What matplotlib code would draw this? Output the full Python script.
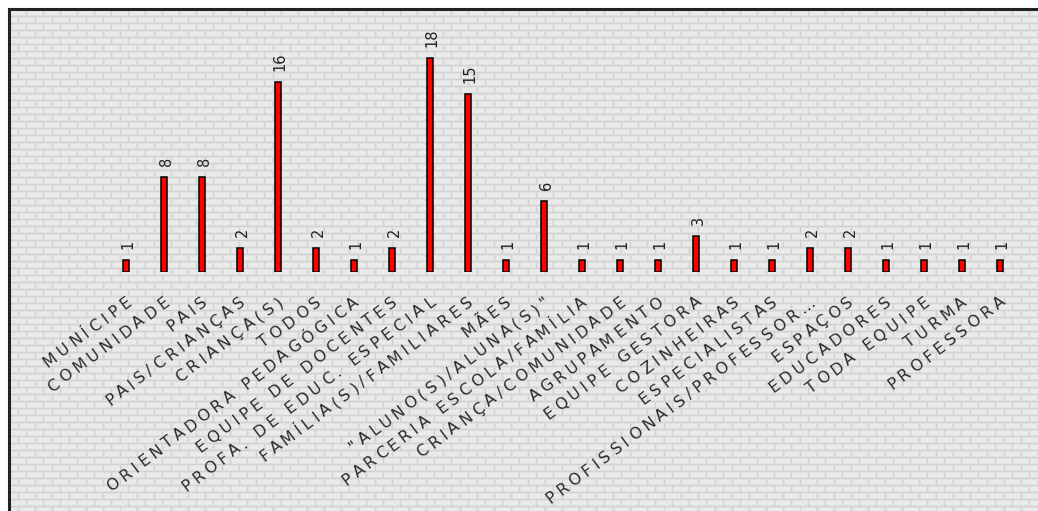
import numpy as np
import matplotlib
matplotlib.use('Agg')
import matplotlib.pyplot as plt
import matplotlib.transforms as mtransforms
from matplotlib.font_manager import FontProperties
from matplotlib.textpath import text_to_path

# categories and counts
categorias = ['MUNÍCIPE', 'COMUNIDADE', 'PAIS', 'PAIS/CRIANÇAS', 'CRIANÇA(S)', 'TODOS',
              'ORIENTADORA PEDAGÓGICA', 'EQUIPE DE DOCENTES', 'PROFA. DE EDUC. ESPECIAL',
              'FAMÍLIA(S)/FAMILIARES', 'MÃES', '"ALUNO(S)/ALUNA(S)"', 'PARCERIA ESCOLA/FAMÍLIA',
              'CRIANÇA/COMUNIDADE', 'AGRUPAMENTO', 'EQUIPE GESTORA', 'COZINHEIRAS',
              'ESPECIALISTAS', 'PROFISSIONAIS/PROFESSOR…', 'ESPAÇOS', 'EDUCADORES',
              'TODA EQUIPE', 'TURMA', 'PROFESSORA']
valores = [1, 8, 8, 2, 16, 2, 1, 2, 18, 15, 1, 6, 1, 1, 1, 3, 1, 1, 2, 2, 1, 1, 1, 1]

W, H = 1038, 511
dpi = 100
fig = plt.figure(figsize=(W / dpi, H / dpi), dpi=dpi)
fig.patch.set_facecolor('white')

# brick wall background inside the frame
fx0, fy0 = 9, 9
bw, bh = W - fx0, H - fy0
yy, xx = np.mgrid[0:bh, 0:bw]
row = yy // 7
xm = (xx + (row % 2) * 8) % 17
ym = yy % 7
tex = np.full((bh, bw), 234.0)
tex[(ym == 1) | (ym == 6) | (xm == 1) | (xm == 16)] = 225
tex[(ym == 0) | (xm == 0)] = 210
tex = np.dstack([tex, tex, tex]) / 255.0

bg = fig.add_axes([fx0 / W, 0, bw / W, bh / H])
bg.imshow(tex, interpolation='nearest', aspect='auto')
bg.set_xticks([])
bg.set_yticks([])
for s in ['right', 'bottom']:
    bg.spines[s].set_visible(False)
for s in ['left', 'top']:
    bg.spines[s].set_linewidth(2.2)
    bg.spines[s].set_color('#222222')

# chart axes
base_y = 272
ax = fig.add_axes([10 / W, (H - base_y) / H, (W - 10) / W, (base_y - 10) / H])
ax.patch.set_alpha(0)
x = np.arange(len(categorias))
ax.bar(x, valores, width=0.18, color='#ff0000', edgecolor='black', linewidth=1.1, zorder=3)
ax.set_xlim(-(126 - 10) / 38, 23 + (W - 1000) / 38)
ax.set_ylim(0, (base_y - 10) / 11.9)
ax.axis('off')

for xi, v in zip(x, valores):
    ax.annotate(str(v), (xi, v), xytext=(2, 11), textcoords='offset pixels',
                rotation=90, ha='center', va='bottom', fontsize=10.5, color='#222222')

# rotated category labels with wide letter spacing
ang = 37
ca, sa = np.cos(np.radians(ang)), np.sin(np.radians(ang))
fp = FontProperties(family='DejaVu Sans', size=11.5)
esp = 4.0
px = dpi / 72.0


def larg(s):
    if not s:
        return 0.0
    w, _, _ = text_to_path.get_text_width_height_descent(s + 'H', fp, ismath=False)
    w0, _, _ = text_to_path.get_text_width_height_descent('H', fp, ismath=False)
    return (w - w0) * px


for xi, lab in zip(x, categorias):
    n = len(lab)
    total = larg(lab) + esp * (n - 1)
    ex, ey = 6, -32
    for k, ch in enumerate(lab):
        d = larg(lab[:k]) + esp * k - total
        tr = mtransforms.offset_copy(ax.get_xaxis_transform(), fig=fig,
                                     x=ex + d * ca, y=ey + d * sa, units='dots')
        ax.text(xi, 0, ch, transform=tr, rotation=ang, rotation_mode='anchor',
                ha='left', va='baseline', fontproperties=fp, color='#2a2a2a',
                clip_on=False)

fig.savefig('out.png', dpi=dpi)
